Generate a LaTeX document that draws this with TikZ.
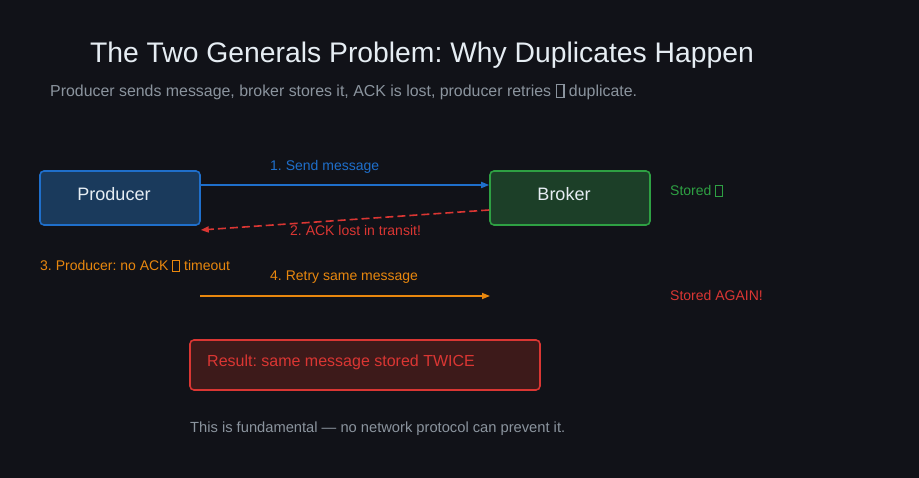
\documentclass[tikz,border=0pt]{standalone}
\usepackage{fontspec}
\setmainfont{Liberation Sans}
\usepackage{xcolor}
\usetikzlibrary{arrows.meta}
\frenchspacing

\definecolor{bgdark}{HTML}{111218}
\definecolor{txtlight}{HTML}{E6EDF3}
\definecolor{txtgray}{HTML}{8B949E}
\definecolor{msgblue}{HTML}{1F6FCB}
\definecolor{prodfill}{HTML}{1A3A5C}
\definecolor{okgreen}{HTML}{2EA043}
\definecolor{brokfill}{HTML}{1C3F28}
\definecolor{errred}{HTML}{DA3633}
\definecolor{errfill}{HTML}{3D1A1A}
\definecolor{retryorange}{HTML}{E8870E}

% missing-glyph box, as the picture prints it
\newcommand{\tofu}{{\setlength{\fboxsep}{0pt}\setlength{\fboxrule}{0.07em}\fbox{\rule{0pt}{0.74em}\hspace{0.42em}}}}
\newcommand{\px}[1]{\fontsize{#1}{#1}\selectfont}

\begin{document}
\begin{tikzpicture}[x=1pt, y=-1pt, >={Triangle[length=8pt,width=6pt]},
    every node/.style={inner sep=0pt},
    box/.style={rounded corners=4pt, line width=1.6pt, minimum width=160pt,
                minimum height=54pt},
    boxtext/.style={anchor=base, text=txtlight, font=\px{18}},
    lbl/.style={anchor=base west, font=\px{14}},
    msg/.style={->, line width=1.6pt}]
\fill[bgdark] (0,0) rectangle (919,478);
\useasboundingbox (0,0) rectangle (919,478);

% heading
\node[anchor=base, text=txtlight, font=\px{28.3}] (title) at (422,63)
    {The Two Generals Problem: Why Duplicates Happen};
\node[anchor=base west, text=txtgray, font=\px{15.9}] (subtitle) at (50,97)
    {Producer sends message, broker stores it, ACK is lost, producer retries \tofu{} duplicate.};

% the two parties
\node[box, draw=msgblue, fill=prodfill] (prod) at (120,198) {};
\node[boxtext] (prodlbl) at (114,201) {Producer};
\node[box, draw=okgreen, fill=brokfill] (brok) at (570,198) {};
\node[boxtext] (broklbl) at (564,201) {Broker};

% 1. send
\coordinate (sendA) at (prod.east |- 0,185);
\coordinate (sendB) at (brok.west |- 0,185);
\draw[msg, msgblue] (sendA) -- (sendB);
\node[lbl, text=msgblue] (sendlbl) at (270,171) {1. Send message};
\node[lbl, text=okgreen] (stored1) at (670,196) {Stored \tofu};

% 2. ack lost
\coordinate (ackA) at (brok.west |- 0,210);
\coordinate (ackB) at (prod.east |- 0,230);
\draw[msg, errred, dash pattern=on 8pt off 4pt] (ackA) -- (ackB);
\node[lbl, text=errred] (acklbl) at (290,236) {2. ACK lost in transit!};

% 3./4. timeout and retry
\node[lbl, text=retryorange] (timeout) at (40,271) {3. Producer: no ACK \tofu{} timeout};
\node[lbl, text=retryorange] (retrylbl) at (270,281) {4. Retry same message};
\coordinate (retryA) at (200,296);
\coordinate (retryB) at (490,296);
\draw[msg, retryorange] (retryA) -- (retryB);
\node[lbl, text=errred] (stored2) at (670,301) {Stored AGAIN!};

% outcome
\node[rounded corners=4pt, line width=1.6pt, draw=errred, fill=errfill,
      minimum width=350pt, minimum height=50pt] (result) at (365,365) {};
\node[anchor=base west, text=errred, font=\px{16}] (resultlbl) at (207,367)
    {Result: same message stored TWICE};
\node[anchor=base west, text=txtgray, font=\px{14.7}] (footer) at (190,432)
    {This is fundamental — no network protocol can prevent it.};
\end{tikzpicture}
\end{document}
